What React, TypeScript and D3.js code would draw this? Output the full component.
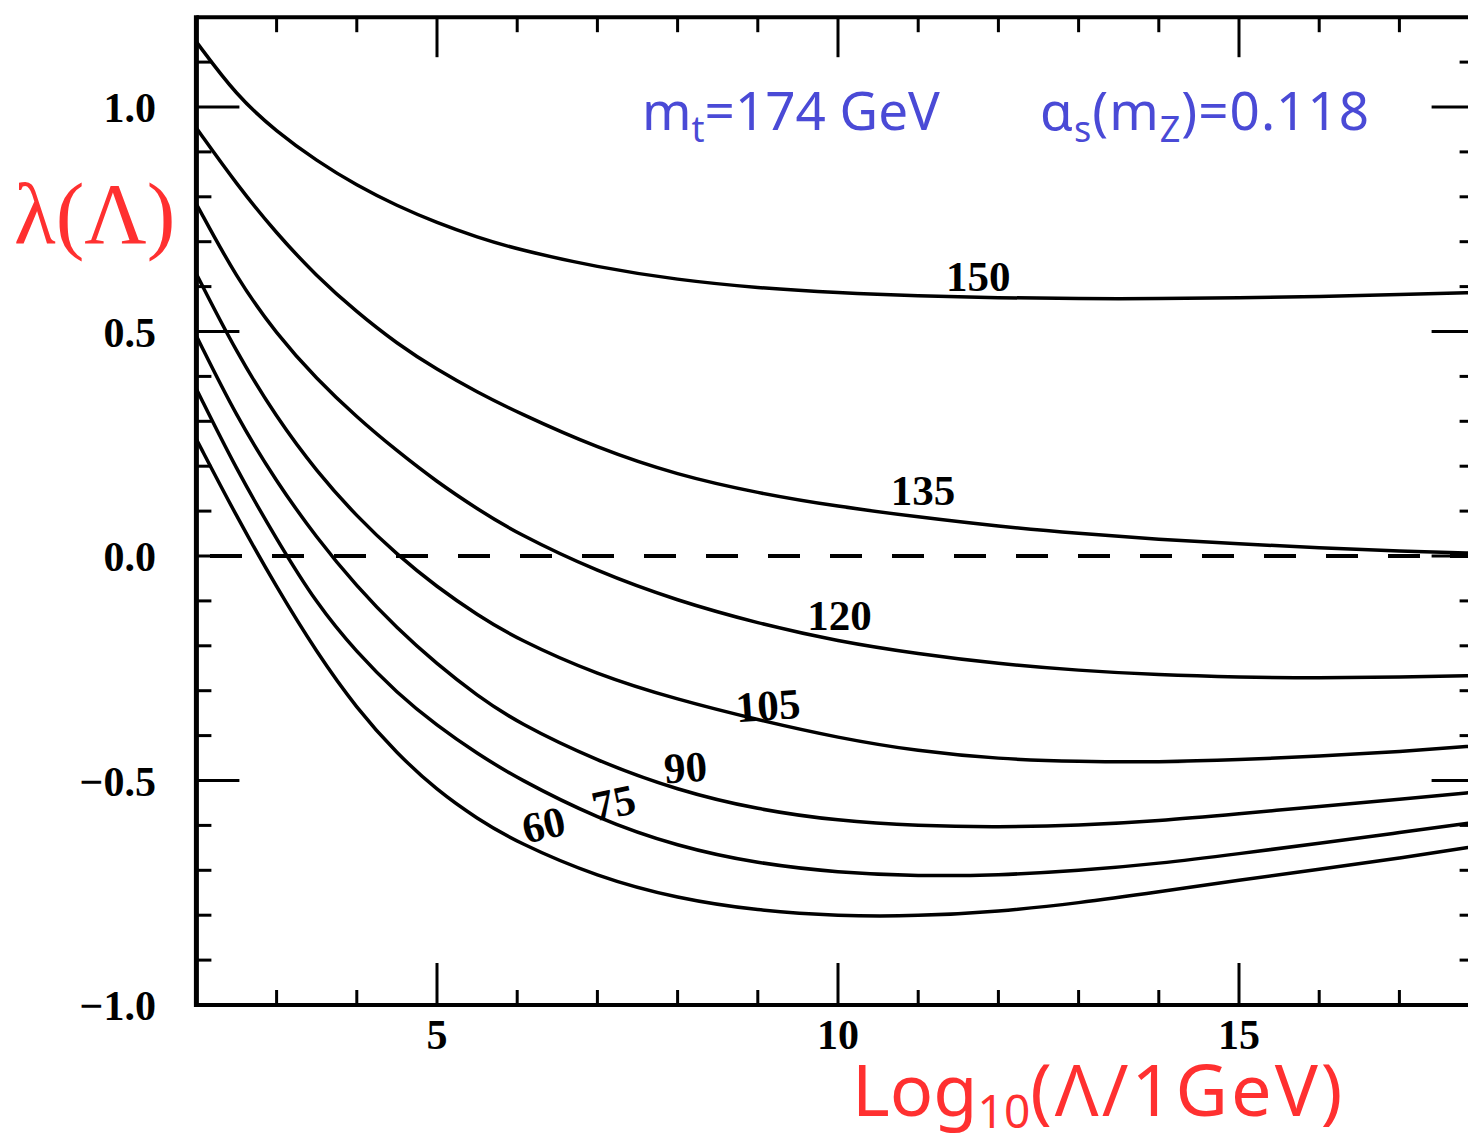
import React from "react";
import * as d3 from "d3";

// log10(Lambda / 1 GeV) sample points
const logLambda = [2, 2.5, 3, 3.5, 4, 4.5, 5, 5.5, 6, 7, 8, 9, 10, 11, 12, 13, 14, 15, 16, 17, 18];

// Higgs masses (GeV) of the curves
const higgsMasses = [60, 75, 90, 105, 120, 135, 150];

// lambda(Lambda) for each Higgs mass
const lambda60 = [0.26, 0.088, -0.07, -0.215, -0.34, -0.44, -0.522, -0.585, -0.638, -0.715, -0.763, -0.79, -0.802, -0.802, -0.792, -0.773, -0.748, -0.722, -0.698, -0.673, -0.645];
const lambda75 = [0.372, 0.192, 0.037, -0.107, -0.215, -0.305, -0.378, -0.44, -0.495, -0.585, -0.647, -0.685, -0.705, -0.713, -0.711, -0.701, -0.685, -0.663, -0.64, -0.616, -0.592];
const lambda90 = [0.49, 0.31, 0.165, 0.04, -0.068, -0.161, -0.241, -0.311, -0.371, -0.457, -0.522, -0.565, -0.59, -0.601, -0.604, -0.6, -0.59, -0.574, -0.558, -0.542, -0.525];
const lambda105 = [0.628, 0.453, 0.308, 0.188, 0.088, 0.003, -0.069, -0.131, -0.185, -0.265, -0.32, -0.365, -0.405, -0.435, -0.452, -0.458, -0.459, -0.454, -0.446, -0.436, -0.422];
const lambda120 = [0.784, 0.619, 0.494, 0.394, 0.309, 0.234, 0.165, 0.105, 0.05, -0.035, -0.1, -0.15, -0.19, -0.218, -0.24, -0.255, -0.265, -0.27, -0.272, -0.27, -0.266];
const lambda135 = [0.953, 0.828, 0.718, 0.623, 0.543, 0.473, 0.415, 0.365, 0.32, 0.24, 0.18, 0.14, 0.11, 0.087, 0.066, 0.05, 0.037, 0.027, 0.018, 0.011, 0.006];
const lambda150 = [1.145, 1.025, 0.945, 0.88, 0.825, 0.78, 0.742, 0.71, 0.683, 0.643, 0.615, 0.597, 0.586, 0.579, 0.575, 0.573, 0.573, 0.575, 0.578, 0.582, 0.587];

const curves = [lambda60, lambda75, lambda90, lambda105, lambda120, lambda135, lambda150];

// where the mass labels sit (data coordinates)
const labelLog = [6.37, 7.24, 8.11, 9.14, 10.02, 11.06, 11.75];
const labelLambda = [-0.639, -0.59, -0.512, -0.374, -0.174, 0.105, 0.581];
const labelTilt = [-13, -12, -4, -4, 0, 0, 0];

// axis ticks
const xMajor = [5, 10, 15];
const xMinor = d3.range(3, 19).filter((v) => !xMajor.includes(v));
const yMajor = [-1, -0.5, 0, 0.5, 1];
const yMinor = d3.range(-9, 12).map((v) => v / 10).filter((v) => Math.abs(v * 2 - Math.round(v * 2)) > 1e-6);
const yTickText = ["\u22121.0", "\u22120.5", "0.0", "0.5", "1.0"];

export default function App() {
  const width = 1468,
    height = 1140;

  const x = d3.scaleLinear().domain([2, 18]).range([196.4, 1479.6]);
  const y = d3.scaleLinear().domain([-1, 1.2]).range([1005, 17.2]);

  const line = d3
    .line<number>()
    .x((_, i) => x(logLambda[i]))
    .y((d) => y(d))
    .curve(d3.curveBasis);

  const left = x(2),
    right = x(18),
    top = y(1.2),
    bottom = y(-1);

  const tickFont = { fontFamily: "'Liberation Serif', serif", fontWeight: 700, fontSize: 42 };

  return (
    <svg
      width={width}
      height={height}
      style={{ position: "absolute", left: 0, top: 0, display: "block", background: "#fff" }}
    >
      {/* frame */}
      <g stroke="#000" strokeWidth={4} fill="none">
        <line x1={left} y1={top} x2={right} y2={top} />
        <line x1={left} y1={bottom} x2={right} y2={bottom} />
        <line x1={left} y1={top - 2} x2={left} y2={bottom + 2} strokeWidth={5} />
        <line x1={right} y1={top} x2={right} y2={bottom} />
      </g>

      {/* ticks */}
      <g stroke="#000" strokeWidth={3}>
        {xMajor.map((v) => (
          <g key={"xM" + v}>
            <line x1={x(v)} x2={x(v)} y1={bottom} y2={bottom - 42} />
            <line x1={x(v)} x2={x(v)} y1={top} y2={top + 40} />
          </g>
        ))}
        {xMinor.map((v) => (
          <g key={"xm" + v}>
            <line x1={x(v)} x2={x(v)} y1={bottom} y2={bottom - 15} />
            <line x1={x(v)} x2={x(v)} y1={top} y2={top + 15} />
          </g>
        ))}
        {yMajor.map((v) => (
          <g key={"yM" + v}>
            <line x1={left} x2={left + 43} y1={y(v)} y2={y(v)} />
            <line x1={right} x2={right - 48} y1={y(v)} y2={y(v)} />
          </g>
        ))}
        {yMinor.map((v) => (
          <g key={"ym" + v}>
            <line x1={left} x2={left + 15} y1={y(v)} y2={y(v)} />
            <line x1={right} x2={right - 20} y1={y(v)} y2={y(v)} />
          </g>
        ))}
      </g>

      {/* tick labels */}
      <g {...tickFont} fill="#000">
        {yMajor.map((v, i) => (
          <text key={"yl" + v} x={156} y={y(v) + 15} textAnchor="end">
            {yTickText[i]}
          </text>
        ))}
        {xMajor.map((v) => (
          <text key={"xl" + v} x={x(v)} y={1049} textAnchor="middle">
            {v}
          </text>
        ))}
      </g>

      {/* lambda = 0 */}
      <line
        x1={210}
        x2={right}
        y1={y(0)}
        y2={y(0)}
        stroke="#000"
        strokeWidth={4}
        strokeDasharray="32 30"
      />

      {/* running coupling curves */}
      {curves.map((c, i) => (
        <path key={"c" + higgsMasses[i]} d={line(c) || ""} fill="none" stroke="#000" strokeWidth={3.5} />
      ))}

      {/* mass labels */}
      <g fontFamily="'Liberation Serif', serif" fontWeight={700} fontSize={43} fill="#000">
        {higgsMasses.map((m, i) => (
          <text
            key={"lab" + m}
            textAnchor="middle"
            transform={`translate(${x(labelLog[i])},${y(labelLambda[i]) - 4}) rotate(${labelTilt[i]})`}
          >
            {m}
          </text>
        ))}
      </g>

      {/* parameters */}
      <g fontFamily="'Noto Sans', sans-serif" fontSize={53} fill="#4a4ad6">
        <text x={642} y={130}>
          m<tspan fontSize={36} dy={12}>t</tspan>
          <tspan dy={-12}>=174 GeV</tspan>
        </text>
        <text x={1040} y={130} letterSpacing={1}>
          α<tspan fontSize={36} dy={12}>s</tspan>
          <tspan dy={-12}>(m</tspan>
          <tspan fontSize={36} dy={12}>Z</tspan>
          <tspan dy={-12}>)=0.118</tspan>
        </text>
      </g>

      {/* axis titles */}
      <text x={14} y={243} fontFamily="'Liberation Serif', serif" fontSize={86} fill="#ff3030">
        λ(Λ)
      </text>
      <text x={852} y={1116} fontFamily="'Noto Sans', sans-serif" fontSize={72} fill="#ff3030">
        Log<tspan fontSize={46} dy={12}>10</tspan>
        <tspan dy={-12} letterSpacing={3}>(Λ/1GeV)</tspan>
      </text>
    </svg>
  );
}
